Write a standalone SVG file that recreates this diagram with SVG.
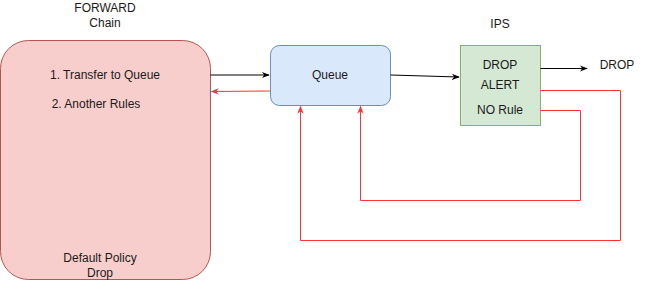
<svg xmlns="http://www.w3.org/2000/svg" width="648" height="281" viewBox="0 0 648 281">
<style>
text{font-family:"Liberation Sans",Arial,sans-serif;font-size:12px;fill:#1a1a1a;text-anchor:middle}
.blk{stroke:#000;stroke-width:1;fill:none}
.red{stroke:#ff3333;stroke-width:1;fill:none}
</style>
<defs>
<marker id="ab" viewBox="0 0 10 10" refX="9" refY="5" markerWidth="8" markerHeight="8" orient="auto" markerUnits="userSpaceOnUse"><path d="M0,1 L10,5 L0,9 L3,5 Z" fill="#000"/></marker>
<marker id="ar" viewBox="0 0 10 10" refX="9" refY="5" markerWidth="8" markerHeight="8" orient="auto" markerUnits="userSpaceOnUse"><path d="M0,1 L10,5 L0,9 L3,5 Z" fill="#ff3333"/></marker>
</defs>
<rect width="648" height="281" fill="#fff"/>
<text x="105" y="12">FORWARD</text>
<text x="105" y="27">Chain</text>
<text x="500" y="28">IPS</text>
<g id="forward">
<rect x="0.5" y="40.5" width="210" height="239" rx="28" fill="#f8cecc" stroke="#b85450"/>
<text x="105" y="79">1. Transfer to Queue</text>
<text x="96" y="108">2. Another Rules</text>
<text x="100" y="262">Default Policy</text>
<text x="100" y="277">Drop</text>
</g>
<g id="queue">
<rect x="270.5" y="45.5" width="120" height="60" rx="9" fill="#dae8fc" stroke="#6c8ebf"/>
<text x="330" y="79">Queue</text>
</g>
<g id="ips">
<rect x="460.5" y="45.5" width="80" height="80" fill="#d5e8d4" stroke="#82b366"/>
<text x="500" y="69">DROP</text>
<text x="500" y="89">ALERT</text>
<text x="500" y="114">NO Rule</text>
</g>
<text x="617" y="69">DROP</text>
<g id="connectors">
<path class="blk" d="M210.5,75 L269,75" marker-end="url(#ab)"/>
<path class="red" d="M270,91 L211.5,91.5" marker-end="url(#ar)"/>
<path class="blk" d="M390.5,75 L459,77" marker-end="url(#ab)"/>
<path class="blk" d="M540.5,68.5 L587,68.5" marker-end="url(#ab)"/>
<path class="red" d="M540.5,90.5 L620.5,90.5 L620.5,240.5 L300.5,240.5 L300.5,106.5" marker-end="url(#ar)"/>
<path class="red" d="M540.5,110.5 L580.5,110.5 L580.5,200.5 L360.5,200.5 L360.5,106.5" marker-end="url(#ar)"/>
</g>
</svg>
